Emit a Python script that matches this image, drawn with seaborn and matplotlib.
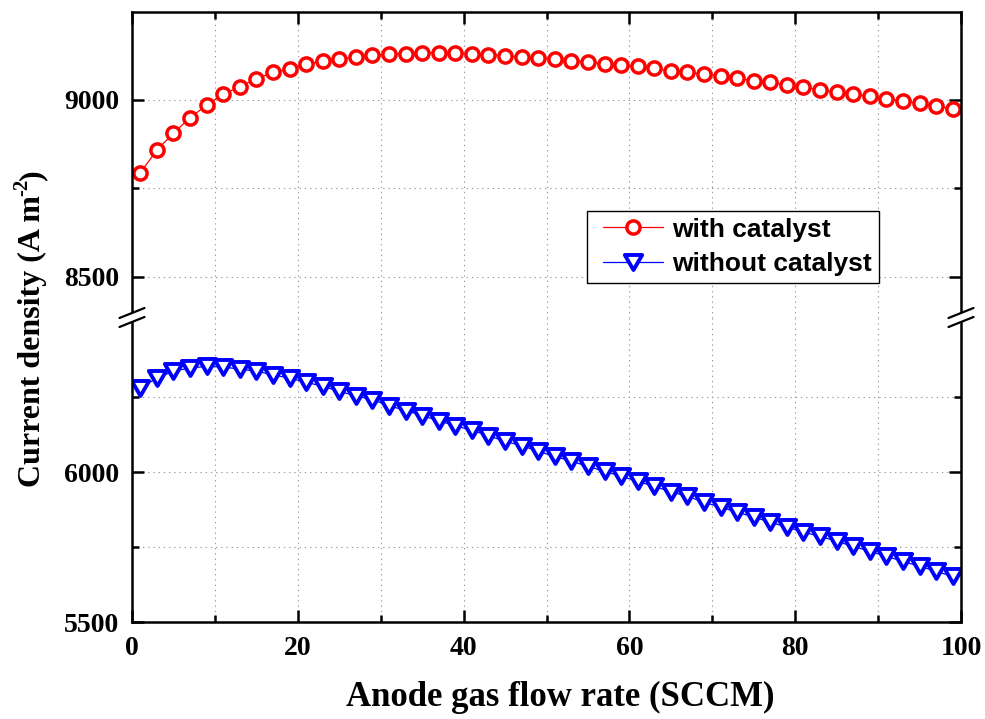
import matplotlib
matplotlib.use("Agg")
import matplotlib.pyplot as plt
import seaborn as sns
from matplotlib.path import Path
from matplotlib.lines import Line2D
from matplotlib.patches import Polygon
from matplotlib.legend_handler import HandlerLine2D

# ---------------- data ----------------
flow_rate = [1, 3, 5, 7, 9, 11, 13, 15, 17, 19,
             21, 23, 25, 27, 29, 31, 33, 35, 37, 39,
             41, 43, 45, 47, 49, 51, 53, 55, 57, 59,
             61, 63, 65, 67, 69, 71, 73, 75, 77, 79,
             81, 83, 85, 87, 89, 91, 93, 95, 97, 99]

with_catalyst = [8794, 8858, 8906, 8950, 8985, 9016, 9038, 9059, 9078, 9088,
                 9102, 9109, 9116, 9121, 9126, 9130, 9131, 9133, 9134, 9132,
                 9130, 9128, 9125, 9121, 9119, 9116, 9111, 9107, 9103, 9100,
                 9095, 9089, 9082, 9078, 9073, 9069, 9062, 9055, 9050, 9043,
                 9037, 9029, 9023, 9017, 9010, 9004, 8997, 8990, 8983, 8975]

without_catalyst = [6281, 6314, 6337, 6348, 6353, 6351, 6344, 6337, 6325, 6314,
                    6300, 6287, 6270, 6255, 6242, 6222, 6206, 6189, 6172, 6155,
                    6140, 6122, 6103, 6089, 6070, 6053, 6037, 6020, 6003, 5987,
                    5970, 5953, 5935, 5920, 5900, 5884, 5867, 5851, 5833, 5818,
                    5800, 5787, 5770, 5753, 5737, 5720, 5703, 5687, 5670, 5653]

series_labels = ["with catalyst", "without catalyst"]
x_major = [0, 20, 40, 60, 80, 100]
x_minor = [10, 30, 50, 70, 90]
top_major = [8500, 9000]
top_minor = [8750]
bot_major = [5500, 6000]
bot_minor = [5750, 6250]
x_label = "Anode gas flow rate (SCCM)"
y_label_main = "Current density (A m"
y_label_sup = "-2"
y_label_end = ")"

# ---------------- style ----------------
sns.set_theme(style="white")
plt.rcParams["font.family"] = ["Liberation Serif", "DejaVu Serif"]
plt.rcParams["font.weight"] = "bold"
plt.rcParams["text.color"] = "black"
plt.rcParams["axes.labelcolor"] = "black"
plt.rcParams["xtick.color"] = "black"
plt.rcParams["ytick.color"] = "black"
plt.rcParams["xtick.labelcolor"] = "black"
plt.rcParams["ytick.labelcolor"] = "black"

W_PX, H_PX = 985, 719
fig = plt.figure(figsize=(W_PX / 100, H_PX / 100), dpi=100)

left_px, right_px = 132, 961
top_px, brk_px, bot_px = 12.3, 317.5, 622.3
L = left_px / W_PX
W = (right_px - left_px) / W_PX
y_bot = (H_PX - bot_px) / H_PX
y_brk = (H_PX - brk_px) / H_PX
y_top = (H_PX - top_px) / H_PX

ax_top = fig.add_axes([L, y_brk, W, y_top - y_brk])
ax_bot = fig.add_axes([L, y_bot, W, y_brk - y_bot])

red = "#FF0000"
blue = "#0000FF"

tri = Path([(-1, 0.866), (1, 0.866), (0, -0.866), (-1, 0.866)],
           [Path.MOVETO, Path.LINETO, Path.LINETO, Path.CLOSEPOLY])

sns.lineplot(x=flow_rate, y=with_catalyst, ax=ax_top, color=red,
             linewidth=0.9, marker="o", markersize=9.5,
             markerfacecolor="white", markeredgecolor=red,
             markeredgewidth=2.5, label=series_labels[0], legend=False)
sns.lineplot(x=flow_rate, y=without_catalyst, ax=ax_bot, color=blue,
             linewidth=0.9, marker=tri, markersize=12.5,
             markerfacecolor="white", markeredgecolor=blue,
             markeredgewidth=2.8, label=series_labels[1], legend=False)

ax_top.set_ylim(8384.5, 9248)
ax_bot.set_ylim(5500, 6516)

grid_kw = dict(color="#9a9a9a", linestyle=(0, (1.2, 3.5)), linewidth=0.8)

for ax, maj, mino in [(ax_top, top_major, top_minor), (ax_bot, bot_major, bot_minor)]:
    ax.set_xlim(0, 100)
    ax.set_xticks(x_major)
    ax.set_xticks(x_minor, minor=True)
    ax.set_yticks(maj)
    ax.set_yticks(mino, minor=True)
    ax.set_xlabel("")
    ax.set_ylabel("")
    ax.set_axisbelow(True)
    ax.grid(True, which="both", **grid_kw)
    for s in ax.spines.values():
        s.set_linewidth(1.8)
        s.set_color("black")
    ax.tick_params(which="major", direction="in", length=8.6, width=1.8,
                   color="black", labelcolor="black", labelsize=20, pad=9)
    ax.tick_params(which="minor", direction="in", length=5, width=1.8,
                   color="black")
    ax.set_facecolor("white")
    for lbl in ax.get_xticklabels() + ax.get_yticklabels():
        lbl.set_fontweight("bold")

ax_top.spines["bottom"].set_visible(False)
ax_top.tick_params(which="both", top=True, bottom=False, left=True, right=True,
                   labelbottom=False)
ax_bot.spines["top"].set_visible(False)
ax_bot.tick_params(which="both", top=False, bottom=True, left=True, right=True)
ax_bot.tick_params(axis="x", which="major", pad=10)

# legend
h1 = ax_top.get_lines()[0]
h2 = ax_bot.get_lines()[0]
hmap = {h1: HandlerLine2D(xpad=0.37), h2: HandlerLine2D(xpad=0.37)}
leg = fig.legend([h1, h2], series_labels, loc="upper left",
                 bbox_to_anchor=(587 / W_PX, (H_PX - 211) / H_PX),
                 bbox_transform=fig.transFigure, borderaxespad=0,
                 prop={"family": "Liberation Sans", "weight": "bold", "size": 19},
                 frameon=True, fancybox=False, framealpha=1, edgecolor="black",
                 handlelength=2.64, handletextpad=0.34, labelspacing=0.4,
                 borderpad=0.25, numpoints=1, handler_map=hmap,
                 labelcolor="black")
leg.get_frame().set_linewidth(1.0)

# axis titles
fig.text(560 / W_PX, (H_PX - 697) / H_PX, x_label, ha="center", va="center",
         fontsize=25, fontweight="bold", color="black")

# y title assembled from pieces so that the superscript is a plain hyphen
renderer = fig.canvas.get_renderer()
fs_y = 23
base_x = 40 / W_PX
start_py = 487
t1 = fig.text(base_x, (H_PX - start_py) / H_PX, y_label_main, rotation=90,
              rotation_mode="anchor", ha="left", va="baseline",
              fontsize=fs_y, fontweight="bold", color="black")
bb1 = t1.get_window_extent(renderer)
end_py = H_PX - bb1.y1
t2 = fig.text(base_x - 13 / W_PX, (H_PX - end_py - 1) / H_PX, y_label_sup,
              rotation=90, rotation_mode="anchor", ha="left", va="baseline",
              fontsize=fs_y * 0.65, fontweight="bold", color="black")
bb2 = t2.get_window_extent(renderer)
end2_py = H_PX - bb2.y1
fig.text(base_x, (H_PX - end2_py - 1) / H_PX, y_label_end, rotation=90,
         rotation_mode="anchor", ha="left", va="baseline",
         fontsize=fs_y, fontweight="bold", color="black")

# break marks on both spines
def fx(px):
    return px / W_PX

def fy(py):
    return (H_PX - py) / H_PX

for xc in (left_px, right_px):
    x0, x1 = xc - 12.5, xc + 12.5
    poly = Polygon([(fx(x0), fy(318)), (fx(x1), fy(308)),
                    (fx(x1), fy(317)), (fx(x0), fy(327))],
                   closed=True, transform=fig.transFigure,
                   facecolor="white", edgecolor="none", zorder=5)
    fig.add_artist(poly)
    for (ya, yb) in ((318, 308), (327, 317)):
        fig.add_artist(Line2D([fx(x0), fx(x1)], [fy(ya), fy(yb)],
                              transform=fig.transFigure, color="black",
                              linewidth=1.6, zorder=6))

fig.savefig("out.png", dpi=100, facecolor="white")
